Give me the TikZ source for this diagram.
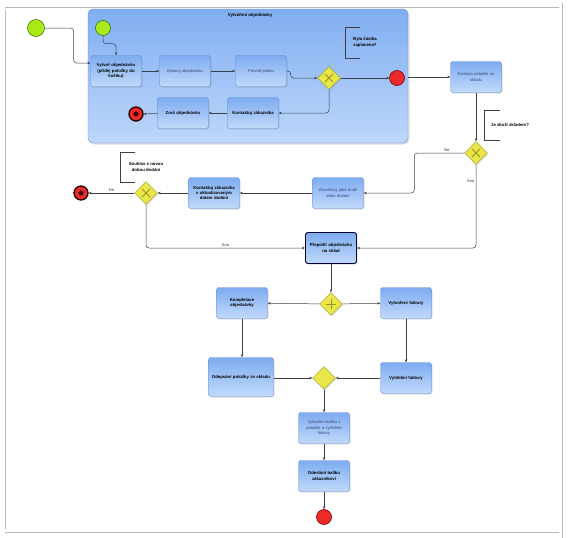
\documentclass[tikz,border=0pt]{standalone}
\usepackage{fontspec}
\setmainfont{Liberation Sans}
\usetikzlibrary{shapes.geometric,shadows,arrows.meta}

\definecolor{tasktop}{RGB}{125,172,240}
\definecolor{taskbot}{RGB}{194,218,252}
\definecolor{taskline}{RGB}{95,138,210}
\definecolor{pooltop}{RGB}{128,174,241}
\definecolor{poolbot}{RGB}{190,215,251}
\definecolor{gatefill}{RGB}{232,230,72}
\definecolor{gateline}{RGB}{150,148,30}
\definecolor{startfill}{RGB}{172,232,24}
\definecolor{endfill}{RGB}{236,42,42}
\definecolor{flowcol}{RGB}{60,62,72}
\definecolor{plaintext}{RGB}{55,68,120}

\tikzset{
  task/.style={draw=taskline, rounded corners=2.5pt, top color=tasktop, bottom color=taskbot,
    minimum width=51pt, minimum height=31pt, text width=50pt, align=center, inner sep=0.5pt,
    font=\fontsize{4.3}{5.4}\selectfont\bfseries,
    execute at begin node={\hyphenpenalty=10000\relax},
    drop shadow={shadow xshift=1pt, shadow yshift=-1pt, opacity=0.25}},
  plaintask/.style={task, font=\fontsize{4.1}{5.3}\selectfont, text=plaintext},
  gate/.style={diamond, draw=gateline, fill=gatefill, minimum size=23pt, inner sep=0pt,
    drop shadow={shadow xshift=1pt, shadow yshift=-1pt, opacity=0.25}},
  xgate/.style={gate, path picture={
    \draw[line width=1pt]
      ([shift={(-4pt,-4pt)}]path picture bounding box.center) -- ([shift={(4pt,4pt)}]path picture bounding box.center)
      ([shift={(-4pt,4pt)}]path picture bounding box.center) -- ([shift={(4pt,-4pt)}]path picture bounding box.center);}},
  pgate/.style={gate, path picture={
    \draw[line width=0.9pt]
      ([xshift=-5pt]path picture bounding box.center) -- ([xshift=5pt]path picture bounding box.center)
      ([yshift=-5pt]path picture bounding box.center) -- ([yshift=5pt]path picture bounding box.center);}},
  startev/.style={circle, draw=green!35!black, fill=startfill, minimum size=15pt, inner sep=0pt},
  endev/.style={circle, draw=red!45!black, line width=0.6pt, fill=endfill, minimum size=15pt, inner sep=0pt},
  termev/.style={circle, draw=black!85!red, line width=1.3pt, fill=endfill, minimum size=14pt, inner sep=0pt,
    path picture={\fill[black!75!red] (path picture bounding box.center) circle (2.6pt);}},
  pool/.style={draw=taskline, rounded corners=5pt, top color=pooltop, bottom color=poolbot,
    minimum width=320pt, minimum height=134pt,
    drop shadow={shadow xshift=1.5pt, shadow yshift=-1.5pt, opacity=0.25}},
  note/.style={align=center, font=\fontsize{4.3}{5.4}\selectfont\bfseries, inner sep=0pt},
  bracket/.style={draw=flowcol, line width=0.6pt},
  assoc/.style={draw=gray!70, dotted, line width=0.5pt},
  flow/.style={draw=flowcol, line width=0.5pt, rounded corners=3pt, -{Stealth[length=3pt,width=2.5pt]}},
  lbl/.style={font=\fontsize{4}{5}\selectfont, text=gray!40!black, inner sep=1.5pt}
}

\begin{document}
\begin{tikzpicture}[x=1pt, y=-1pt]
\def\xmain{331};
\def\xpack{324};
\def\xbill{406};

\useasboundingbox (0,0) rectangle (573,538);

% frame
\draw[gray!55, line width=0.8pt] (5,7) -- (559,7);
\draw[gray!55, line width=0.8pt] (562,3) -- (562,538);
\draw[gray!55, line width=0.8pt] (5,10) -- (5,529);
\draw[gray!55, line width=0.8pt] (5,532) -- (559,532);

% subprocess
\node[startev, minimum size=17pt] (s0) at (36,28) {};
\node[pool] (sub) at (248,76) {};
\node[note] (subtitle) at (250,15) {Vytvoření objednávky};
\node[startev] (s1) at (103,28) {};
\node[task] (vo) at (116,71) {Vytvoř objednávku\\(přidej položky do\\košíku)};
\node[plaintask] (zo) at (185,71) {Zpracuj objednávku};
\node[plaintask] (pp) at (261,71) {Proveď platbu};
\node[xgate] (g1) at (329,78) {};
\node[endev] (e1) at (397,78) {};
\node[task] (kz) at (253,113) {Kontaktuj zákazníka};
\node[task] (zr) at (183,113) {Zruš objednávku};
\node[termev] (t1) at (136,114) {};

\node[note, minimum width=40pt, minimum height=31pt] (n1) at (365,42.5) {Byla částka\\zaplacena?};
\draw[bracket] ([xshift=15pt]n1.north west) -- (n1.north west) -- (n1.south west) -- ([xshift=15pt]n1.south west);
\draw[assoc] (g1.north) -- (n1.west);

\draw[flow] (s0.east) -- ++(29,0) |- ([yshift=8pt]vo.west);
\draw[flow] (s1.south) |- ++(13,8) -- (vo.north);
\draw[flow] (vo) -- (zo);
\draw[flow] (zo) -- (pp);
\draw[flow] (pp.east) -- ++(4,0) |- (g1.west);
\draw[flow] (g1) -- (e1);
\draw[flow] (g1.south) |- (kz.east);
\draw[flow] (kz) -- (zr);
\draw[flow] (zr) -- (t1);

% stock check
\node[plaintask] (kp) at (476,77) {Kontrola položek na\\skladu};
\node[xgate] (g2) at (476,153) {};
\node[note, minimum width=52pt, minimum height=30pt] (n2) at (510,125) {Je zboží skladem?};
\draw[bracket] ([xshift=16pt]n2.north west) -- (n2.north west) -- (n2.south west) -- ([xshift=16pt]n2.south west);
\draw[assoc] (g2.north) -- ([yshift=5pt]n2.south west);

\node[plaintask] (zd) at (338,193) {Zkontroluj, jaká bude\\doba dodání};
\node[task] (ka) at (214,193) {Kontaktuj zákazníka\\s~aktualizovaným\\datem dodání};
\node[xgate] (g3) at (146,193) {};
\node[termev] (t2) at (81,193) {};
\node[note, minimum width=52pt, minimum height=30pt] (n3) at (146,167) {Souhlas s novou\\dobou dodání};
\draw[bracket] ([xshift=15pt]n3.north west) -- (n3.north west) -- (n3.south west) -- ([xshift=15pt]n3.south west);
\draw[assoc] (g3.north) -- ([xshift=17pt]n3.south west);

\node[task, draw=black!80!blue, line width=0.9pt] (po) at (\xmain,248) {Přepošli objednávku\\na sklad};

\draw[flow] (sub.east |- kp) -- (kp.west);
\draw[flow] (kp) -- (g2);
\draw[flow] (g2.west) -- node[lbl, above, pos=0.35] {Ne} ++(-50,0) |- (zd.east);
\draw[flow] (g2.south) |- node[lbl, left, pos=0.1] {Ano} (po.east);
\draw[flow] (zd) -- (ka);
\draw[flow] (ka) -- (g3);
\draw[flow] (g3) -- node[lbl, above] {Ne} (t2);
\draw[flow] (g3.south) |- node[lbl, above, pos=0.75] {Ano} (po.west);

% order completion
\node[pgate] (g4) at (\xmain,304) {};
\node[task] (ko) at (242,303) {Kompletace\\objednávky};
\node[task] (vf) at (\xbill,303) {Vytvoření faktury};
\node[task, minimum width=64pt, minimum height=39pt, text width=64pt] (os) at (241,377) {Odepsání položky ze skladu};
\node[task] (tf) at (\xbill,378) {Vytištění faktury};
\node[gate] (g5) at (\xpack,378) {};
\node[plaintask] (vb) at (\xpack,428) {Vytvoření balíku z\\položek a vytištěné\\faktury};
\node[task] (ob) at (\xpack,476) {Odeslání balíku\\zákazníkovi};
\node[endev] (e2) at (\xpack,517) {};

\draw[flow] (po) -- (g4);
\draw[flow] (g4) -- (ko);
\draw[flow] (g4) -- (vf);
\draw[flow] (ko.south) -- (ko.south |- os.north);
\draw[flow] (vf) -- (tf);
\draw[flow] (os.east |- g5) -- (g5.west);
\draw[flow] (tf) -- (g5);
\draw[flow] (g5) -- (vb);
\draw[flow] (vb) -- (ob);
\draw[flow] (ob) -- (e2);

\end{tikzpicture}
\end{document}
